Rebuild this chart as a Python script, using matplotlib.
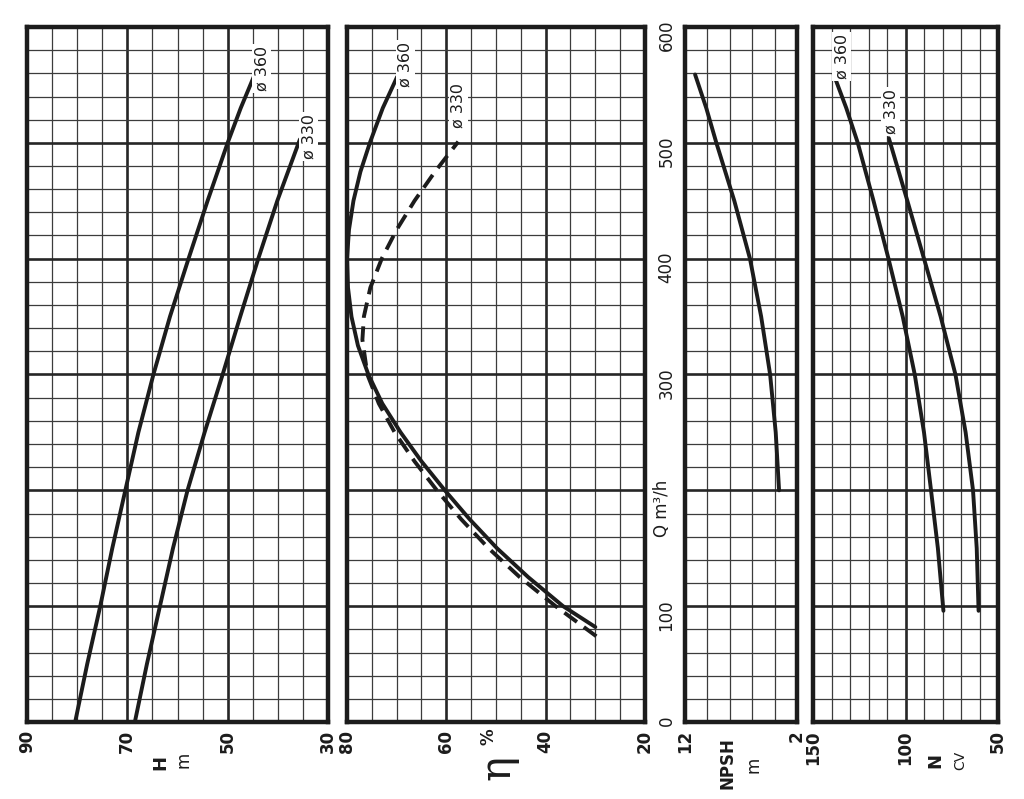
import matplotlib
matplotlib.use("Agg")
import matplotlib.pyplot as plt

# ---------------- data ----------------
Q_ticks = [0, 100, 200, 300, 400, 500, 600]
Q_ticklabels = ["0", "100", "", "300", "400", "500", "600"]

# Head H (m)
Q_H360 = [0, 50, 100, 150, 200, 250, 300, 350, 400, 450, 500, 530, 557]
H_360 = [80.4, 78.0, 75.4, 73.0, 70.4, 67.8, 64.8, 61.5, 57.8, 54.0, 50.0, 47.4, 44.8]
Q_H330 = [0, 50, 100, 150, 200, 250, 300, 350, 400, 450, 503]
H_330 = [68.5, 66.1, 63.5, 60.9, 58.0, 54.6, 51.0, 47.5, 43.9, 40.1, 35.6]

# Efficiency eta (%)
Q_E360 = [82, 100, 125, 150, 175, 200, 225, 250, 275, 300, 325, 350, 375, 400,
          425, 450, 475, 500, 530, 557]
E_360 = [30, 36.5, 43.5, 49.8, 55.3, 60.3, 65.0, 69.2, 72.9, 75.7, 77.8, 79.1,
         79.8, 80.0, 79.6, 78.7, 77.3, 75.4, 72.8, 69.9]
Q_E330 = [74, 100, 125, 150, 175, 200, 225, 250, 275, 300, 330, 350, 375, 400,
          425, 450, 475, 501]
E_330 = [29.8, 38.0, 45.2, 51.5, 57.0, 61.9, 66.4, 70.4, 73.6, 75.9, 76.9, 76.6,
         75.3, 73.0, 70.0, 66.4, 62.3, 57.6]

# NPSH (m)
Q_NPSH = [200, 250, 300, 350, 400, 450, 500, 530, 559]
NPSH = [3.6, 3.9, 4.4, 5.2, 6.2, 7.6, 9.2, 10.1, 11.1]

# Power N (CV)
Q_N360 = [96, 150, 200, 250, 300, 350, 400, 450, 500, 530, 559]
N_360 = [79.5, 82.5, 86.2, 90.0, 95.0, 101.5, 109.2, 117.3, 125.8, 132.0, 138.8]
Q_N330 = [96, 150, 200, 250, 300, 350, 400, 450, 504]
N_330 = [60.5, 61.5, 63.5, 67.5, 73.0, 81.0, 90.0, 99.0, 109.0]

H_ticks = [90, 70, 50, 30]
E_ticks = [80, 60, 40, 20]
NPSH_ticks = [12, 2]
N_ticks = [150, 100, 50]

# ---------------- drawing ----------------
W, Hh = 1024, 799
fig = plt.figure(figsize=(W / 100, Hh / 100), dpi=100)
fig.patch.set_facecolor("white")
INK = "#1c1c1c"


def rect(x0, x1, y0=27, y1=722):
    return [x0 / W, 1 - y1 / Hh, (x1 - x0) / W, (y1 - y0) / Hh]


def fx(x, y):
    return x / W, 1 - y / Hh


def style(ax, xlim, major, minor_step):
    lo, hi = min(xlim), max(xlim)
    ax.set_xlim(*xlim)
    ax.set_ylim(0, 600)
    ax.set_xticks(major)
    minors = []
    v = lo
    while v <= hi + 1e-9:
        minors.append(v)
        v += minor_step
    ax.set_xticks(minors, minor=True)
    ax.set_yticks(Q_ticks)
    ax.set_yticks(range(0, 601, 20), minor=True)
    ax.grid(which="major", color="#262626", lw=1.9)
    ax.grid(which="minor", color="#3c3c3c", lw=0.9)
    ax.set_axisbelow(True)
    ax.tick_params(which="both", length=0)
    ax.tick_params(axis="x", labelsize=12, pad=6, labelrotation=90, colors=INK)
    ax.set_yticklabels([])
    for lbl in ax.get_xticklabels():
        lbl.set_fontweight("bold")
    for s in ax.spines.values():
        s.set_linewidth(3.2)
        s.set_color(INK)


axH = fig.add_axes(rect(27, 328))
axE = fig.add_axes(rect(347, 645))
axP = fig.add_axes(rect(685, 797))
axN = fig.add_axes(rect(813, 998))

style(axH, (90, 30), H_ticks, 5)
style(axE, (80, 20), E_ticks, 5)
style(axP, (12, 2), NPSH_ticks, 2)
style(axN, (150, 50), N_ticks, 10)

# Q labels on the right side of the efficiency panel
axE.tick_params(axis="y", which="major", labelright=True, labelleft=False,
                labelrotation=90, labelsize=12, pad=9, colors=INK)
axE.set_yticklabels(Q_ticklabels)
fig.text(*fx(662, 508), "Q m³/h", rotation=90, ha="center", va="center",
         fontsize=12, color=INK)

LW = 2.8
kw = dict(color=INK, lw=LW, solid_capstyle="round", solid_joinstyle="round")
axH.plot(H_360, Q_H360, **kw)
axH.plot(H_330, Q_H330, **kw)
axE.plot(E_360, Q_E360, clip_on=False, **kw)
axE.plot(E_330, Q_E330, color=INK, lw=LW, ls=(0, (4, 2.2)))
axP.plot(NPSH, Q_NPSH, **kw)
axN.plot(N_360, Q_N360, **kw)
axN.plot(N_330, Q_N330, **kw)


def tag(ax, x, y, txt, dx, dy):
    ax.annotate(txt, xy=(x, y), xytext=(dx, dy), textcoords="offset pixels",
                rotation=90, ha="center", va="bottom", fontsize=11.5, color=INK,
                bbox=dict(boxstyle="square,pad=0.12", fc="white", ec="none"),
                zorder=5)


tag(axH, H_360[-1], Q_H360[-1], "ø 360", 8, -14)
tag(axH, H_330[-1], Q_H330[-1], "ø 330", 9, -20)
tag(axE, E_360[-1], Q_E360[-1], "ø 360", 8, -10)
tag(axE, E_330[-1], Q_E330[-1], "ø 330", 0, 14)
tag(axN, N_360[-1], Q_N360[-1], "ø 360", 8, -5)
tag(axN, N_330[-1], Q_N330[-1], "ø 330", 2, 4)

# axis titles
fig.text(*fx(160, 762), "H", rotation=90, ha="center", va="center",
         fontsize=13, fontweight="bold", color=INK)
fig.text(*fx(183, 760), "m", rotation=90, ha="center", va="center",
         fontsize=12, color=INK)
fig.text(*fx(488, 737), "%", rotation=90, ha="center", va="center",
         fontsize=12, fontweight="bold", color=INK)
fig.text(*fx(497, 768), "η", rotation=90, ha="center", va="center",
         fontsize=30, family="DejaVu Serif", color=INK)
fig.text(*fx(727, 763), "NPSH", rotation=90, ha="center", va="center",
         fontsize=12, fontweight="bold", color=INK)
fig.text(*fx(753, 765), "m", rotation=90, ha="center", va="center",
         fontsize=12, color=INK)
fig.text(*fx(935, 760), "N", rotation=90, ha="center", va="center",
         fontsize=13, fontweight="bold", color=INK)
fig.text(*fx(960, 760), "CV", rotation=90, ha="center", va="center",
         fontsize=10, color=INK)

fig.savefig("out.png", dpi=100, facecolor="white")
